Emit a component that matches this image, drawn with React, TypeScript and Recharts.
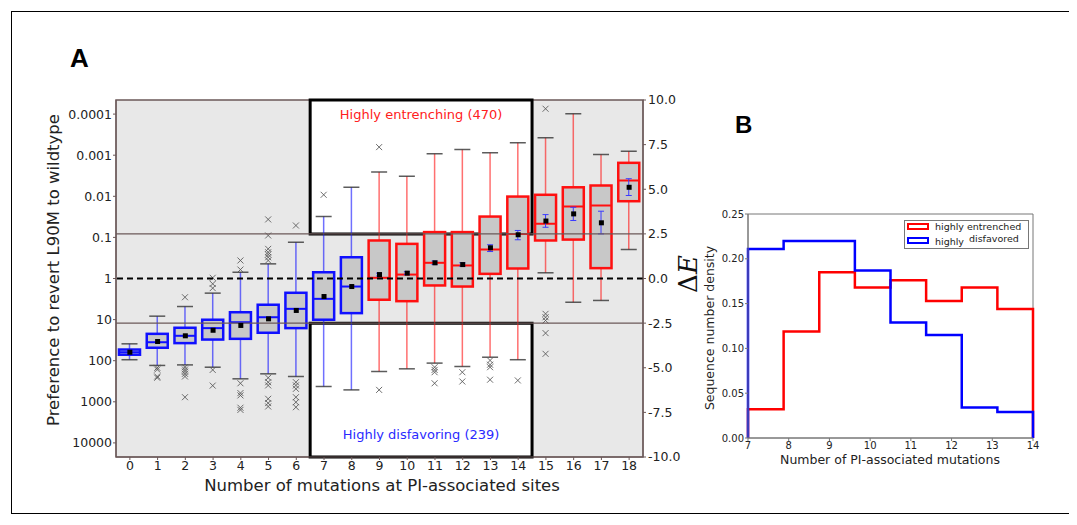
import React from "react";
import {
  ComposedChart,
  LineChart,
  Bar,
  Line,
  XAxis,
  YAxis,
  ReferenceArea,
  ReferenceLine,
} from "recharts";

// ---- panel A: box plots (values in ΔE units, right axis) ----
const mutationCounts = [0, 1, 2, 3, 4, 5, 6, 7, 8, 9, 10, 11, 12, 13, 14, 15, 16, 17, 18];
const whiskerLow = [-4.55, -4.87, -4.84, -4.97, -5.62, -5.34, -5.49, -6.05, -6.24, -5.21, -5.06, -4.74, -4.93, -4.41, -4.55, 0.32, -1.33, -1.23, 1.62];
const quart1 = [-4.27, -3.88, -3.62, -3.42, -3.38, -3.04, -2.78, -2.31, -1.94, -1.19, -1.27, -0.39, -0.45, 0.26, 0.56, 2.13, 2.18, 0.58, 4.33];
const medians = [-4.13, -3.57, -3.21, -2.78, -2.45, -2.17, -1.7, -1.14, -0.45, 0.04, 0.22, 0.88, 0.73, 1.62, 2.5, 3.07, 4.03, 4.09, 5.49];
const quart3 = [-3.98, -3.1, -2.76, -2.31, -1.89, -1.47, -0.8, 0.35, 1.19, 2.13, 1.94, 2.6, 2.6, 3.47, 4.59, 4.69, 5.11, 5.21, 6.48];
const whiskerHigh = [-3.66, -2.11, -1.57, -0.82, 0.35, 0.82, 2.03, 3.47, 5.11, 5.96, 5.73, 6.99, 7.23, 7.04, 7.6, 7.88, 9.23, 6.95, 7.13];
const means = [-4.13, -3.53, -3.21, -2.9, -2.63, -2.26, -1.79, -1.01, -0.45, 0.22, 0.3, 0.88, 0.78, 1.72, 2.45, 3.22, 3.62, 3.12, 5.11];
const meanErrLow = [null, null, null, null, null, null, null, null, null, 0.14, 0.22, 0.78, 0.68, 1.51, 2.17, 2.87, 3.25, 2.5, 4.65];
const meanErrHigh = [null, null, null, null, null, null, null, null, null, 0.3, 0.38, 0.98, 0.88, 1.89, 2.69, 3.58, 3.99, 3.77, 5.59];
const outliers: number[][] = [
  [],
  [-5.0, -5.1, -5.49, -5.56],
  [-1.05, -4.97, -5.1, -5.21, -5.34, -5.49, -6.65],
  [0.04, -0.3, -0.54, -5.12, -6.0],
  [1.01, 0.5, -5.87, -6.42, -6.55, -7.24, -7.36],
  [3.31, 2.41, 1.66, 1.47, 1.34, 1.19, 1.01, -5.56, -5.81, -5.99, -6.74, -6.98, -7.17],
  [2.97, -5.81, -5.99, -6.18, -6.65, -6.93, -7.21],
  [4.69],
  [],
  [7.36, -6.24],
  [],
  [-4.97, -5.12, -5.25, -5.87],
  [-5.25, -5.77],
  [-4.59, -4.83, -4.97, -5.67],
  [-5.71],
  [9.51, -1.98, -2.17, -2.35, -3.06, -4.22],
  [],
  [],
  [],
];

const deltaETicks = [-10, -7.5, -5, -2.5, 0, 2.5, 5, 7.5, 10];
const prefValues = [0.0001, 0.001, 0.01, 0.1, 1, 10, 100, 1000, 10000];
const prefLabels = ["0.0001", "0.001", "0.01", "0.1", "1", "10", "100", "1000", "10000"];
const prefTicks = prefValues.map((p) => -Math.log(p));

const boxRows = mutationCounts.map((n, i) => ({
  n,
  lo: whiskerLow[i],
  q1: quart1[i],
  med: medians[i],
  q3: quart3[i],
  hi: whiskerHigh[i],
  mean: means[i],
  eLo: meanErrLow[i],
  eHi: meanErrHigh[i],
  out: outliers[i],
}));

// ---- panel B: histograms ----
const binEdges = [7, 7.875, 8.75, 9.625, 10.5, 11.375, 12.25, 13.125, 14];
const entrenchedDensity = [0.032, 0.119, 0.185, 0.168, 0.176, 0.153, 0.168, 0.144];
const disfavoredDensity = [0.211, 0.22, 0.22, 0.187, 0.129, 0.115, 0.034, 0.029];
const densityTicks = [0, 0.05, 0.1, 0.15, 0.2, 0.25];
const histTicks = [7, 8, 9, 10, 11, 12, 13, 14];

const stepData = (vals: number[]) => [
  { x: binEdges[0], y: 0 },
  ...vals.map((v, i) => ({ x: binEdges[i], y: v })),
  { x: binEdges[binEdges.length - 1], y: vals[vals.length - 1] },
  { x: binEdges[binEdges.length - 1], y: 0 },
];

const FONT = "'DejaVu Sans', sans-serif";
const FRAME = "#6b5858";

const BoxShape = (props: any) => {
  const { x, y, width, height, payload } = props;
  const top = Math.min(y, y + height);
  const bot = Math.max(y, y + height);
  const ppu = (bot - top) / (payload.hi - payload.lo);
  const py = (v: number) => top + (payload.hi - v) * ppu;
  const cx = x + width / 2;
  const red = payload.n >= 9;
  const col = red ? "#ff1010" : "#1010ff";
  return (
    <g>
      <line x1={cx} x2={cx} y1={py(payload.hi)} y2={py(payload.q3)} stroke={col} strokeOpacity={0.6} strokeWidth={1.5} />
      <line x1={cx} x2={cx} y1={py(payload.q1)} y2={py(payload.lo)} stroke={col} strokeOpacity={0.6} strokeWidth={1.5} />
      <line x1={cx - 8} x2={cx + 8} y1={py(payload.hi)} y2={py(payload.hi)} stroke="#333" strokeOpacity={0.8} strokeWidth={1.5} />
      <line x1={cx - 8} x2={cx + 8} y1={py(payload.lo)} y2={py(payload.lo)} stroke="#333" strokeOpacity={0.8} strokeWidth={1.5} />
      <rect x={x} y={py(payload.q3)} width={width} height={py(payload.q1) - py(payload.q3)} fill="#c8c8c8" stroke={col} strokeWidth={2.5} />
      <line x1={x} x2={x + width} y1={py(payload.med)} y2={py(payload.med)} stroke={col} strokeWidth={2} />
      {payload.eLo != null && (
        <g stroke="#3a3aff" strokeWidth={1}>
          <line x1={cx} x2={cx} y1={py(payload.eHi)} y2={py(payload.eLo)} />
          <line x1={cx - 3} x2={cx + 3} y1={py(payload.eHi)} y2={py(payload.eHi)} />
          <line x1={cx - 3} x2={cx + 3} y1={py(payload.eLo)} y2={py(payload.eLo)} />
        </g>
      )}
      {payload.out.map((v: number, k: number) => (
        <g key={k} stroke="#555" strokeWidth={1} strokeOpacity={0.85}>
          <line x1={cx - 3} x2={cx + 3} y1={py(v) - 3} y2={py(v) + 3} />
          <line x1={cx - 3} x2={cx + 3} y1={py(v) + 3} y2={py(v) - 3} />
        </g>
      ))}
    </g>
  );
};

const MeanDot = (props: any) => {
  const { cx, cy } = props;
  if (cx == null || cy == null) return null;
  return <rect x={cx - 2.5} y={cy - 2.5} width={5} height={5} fill="#000" />;
};

const centered = (cx: number, cy: number, rotate = 0): React.CSSProperties => ({
  position: "absolute",
  left: cx,
  top: cy,
  transform: `translate(-50%, -50%) rotate(${rotate}deg)`,
  whiteSpace: "nowrap",
  fontFamily: FONT,
  color: "#222",
  lineHeight: 1,
});

const tickA = { fontSize: 12.5, fill: "#222", fontFamily: FONT };
const tickB = { fontSize: 10, fill: "#222", fontFamily: FONT };

export default function App() {
  return (
    <div style={{ position: "relative", width: 1069, height: 517, fontFamily: FONT }}>
      <div style={{ position: "absolute", left: 3, top: 3, width: 1061, height: 503, border: "1px solid #000", boxSizing: "border-box" }} />

      <div style={{ position: "absolute", left: 62, top: 37, fontSize: 26, fontWeight: 700, fontFamily: "'Liberation Sans', Arial, sans-serif", lineHeight: 1 }}>A</div>
      <div style={{ position: "absolute", left: 727, top: 105, fontSize: 24, fontWeight: 700, fontFamily: "'Liberation Sans', Arial, sans-serif", lineHeight: 1 }}>B</div>

      <div style={{ position: "absolute", left: 0, top: 0 }}>
        <ComposedChart width={700} height={500} data={boxRows} margin={{ top: 92, right: 15, bottom: 26, left: 48 }}>
          <XAxis dataKey="n" type="category" interval={0} tick={tickA} tickSize={3} tickMargin={1} height={25} axisLine={{ stroke: FRAME }} tickLine={{ stroke: FRAME }} />
          <YAxis yAxisId="left" orientation="left" type="number" domain={[-10, 10]} ticks={prefTicks} interval={0} allowDataOverflow
            tickFormatter={(v: number) => prefLabels[prefTicks.findIndex((t) => Math.abs(t - v) < 1e-6)] ?? ""}
            tick={tickA} tickSize={3} tickMargin={1} width={60} axisLine={{ stroke: FRAME }} tickLine={{ stroke: FRAME }} />
          <YAxis yAxisId="right" orientation="right" type="number" domain={[-10, 10]} ticks={deltaETicks} interval={0} allowDataOverflow
            tickFormatter={(v: number) => v.toFixed(1)}
            tick={tickA} tickSize={3} tickMargin={2} width={50} axisLine={{ stroke: FRAME }} tickLine={{ stroke: FRAME }} />
          <ReferenceArea yAxisId="right" x1={0} x2={18} y1={-10} y2={10} fill="#e8e8e8" fillOpacity={1} stroke={FRAME} strokeWidth={1.5} />
          <ReferenceArea yAxisId="right" x1={7} x2={14} y1={2.5} y2={10} fill="#ffffff" fillOpacity={1} stroke="#000" strokeWidth={3}
            label={{ value: "Highly entrenching (470)", position: "insideTop", offset: 10, fill: "#ff2020", fontSize: 13, fontFamily: FONT }} />
          <ReferenceArea yAxisId="right" x1={7} x2={14} y1={-10} y2={-2.5} fill="#ffffff" fillOpacity={1} stroke="#000" strokeWidth={3}
            label={{ value: "Highly disfavoring (239)", position: "insideBottom", offset: 18, fill: "#2a2aff", fontSize: 13, fontFamily: FONT }} />
          <ReferenceLine yAxisId="right" y={2.5} stroke={FRAME} strokeWidth={1.2} />
          <ReferenceLine yAxisId="right" y={-2.5} stroke={FRAME} strokeWidth={1.2} />
          <ReferenceLine yAxisId="right" y={0} stroke="#000" strokeWidth={2} strokeDasharray="6 4" />
          <Bar yAxisId="right" dataKey={(d: any) => [d.lo, d.hi]} barSize={21} shape={BoxShape} isAnimationActive={false} />
          <Line yAxisId="left" dataKey="mean" stroke="none" dot={<MeanDot />} activeDot={false} isAnimationActive={false} />
        </ComposedChart>
      </div>

      <div style={{ ...centered(46, 262, -90), fontSize: 16.5 }}>Preference to revert L90M to wildtype</div>
      <div style={{ ...centered(374, 478), fontSize: 16.5 }}>Number of mutations at PI-associated sites</div>
      <div style={{ ...centered(680, 266, -90), fontSize: 26, fontFamily: "'DejaVu Serif', serif", color: "#111" }}>
        Δ<span style={{ fontStyle: "italic" }}>E</span>
      </div>

      <div style={{ position: "absolute", left: 692, top: 182 }}>
        <LineChart width={350} height={270} margin={{ top: 24, right: 17, bottom: 4, left: 12 }}>
          <XAxis dataKey="x" type="number" domain={[7, 14]} ticks={histTicks} interval={0} tick={tickB} tickSize={3} tickMargin={1} height={18} axisLine={{ stroke: "#777" }} tickLine={{ stroke: "#777" }} />
          <YAxis type="number" domain={[0, 0.25]} ticks={densityTicks} interval={0} tickFormatter={(v: number) => v.toFixed(2)} tick={tickB} tickSize={3} tickMargin={1} width={36} axisLine={{ stroke: "#777" }} tickLine={{ stroke: "#777" }} />
          <ReferenceArea x1={7} x2={14} y1={0} y2={0.25} fill="none" stroke="#777" strokeWidth={1} />
          <Line data={stepData(entrenchedDensity)} dataKey="y" type="stepAfter" stroke="#ff0000" strokeWidth={2.5} dot={false} isAnimationActive={false} />
          <Line data={stepData(disfavoredDensity)} dataKey="y" type="stepAfter" stroke="#0000ff" strokeWidth={2.5} dot={false} isAnimationActive={false} />
        </LineChart>
      </div>

      <div style={{ ...centered(702, 320, -90), fontSize: 12.5 }}>Sequence number density</div>
      <div style={{ ...centered(882, 452), fontSize: 12.5 }}>Number of PI-associated mutations</div>

      <div style={{ position: "absolute", left: 896, top: 212, width: 125, height: 29, border: "1px solid #777", background: "#fff", boxSizing: "border-box", fontSize: 9.5, color: "#222", lineHeight: 1 }}>
        <div style={{ position: "absolute", left: 2, top: 2, width: 22, height: 7, border: "2.5px solid #ff0000", boxSizing: "border-box" }} />
        <span style={{ position: "absolute", left: 30, top: 1 }}>highly entrenched</span>
        <div style={{ position: "absolute", left: 2, top: 16, width: 22, height: 7, border: "2.5px solid #0000ff", boxSizing: "border-box" }} />
        <span style={{ position: "absolute", left: 30, top: 16 }}>highly</span>
        <span style={{ position: "absolute", left: 64, top: 13 }}>disfavored</span>
      </div>
    </div>
  );
}
